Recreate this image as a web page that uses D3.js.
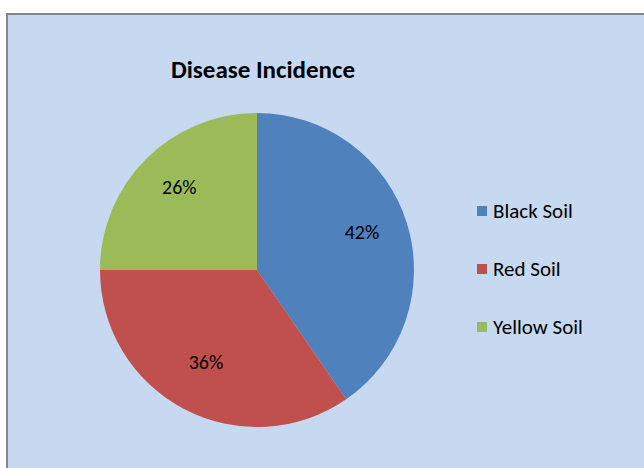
<!DOCTYPE html>
<html>
<head>
<meta charset="utf-8">
<script src="https://cdn.jsdelivr.net/npm/d3@7"></script>
<style>
  body { margin: 0; background: #fff; }
  svg { display: block; }
</style>
</head>
<body>
<svg width="644" height="468"></svg>
<script>
var categories = ["Black Soil", "Red Soil", "Yellow Soil"];
var values = [42, 36, 26];
var labels = ["42%", "36%", "26%"];
var colors = ["#4F81BD", "#C0504D", "#9BBB59"];

var svg = d3.select("svg"),
	cx = 257, cy = 270, radius = 157;

// chart area with grey border
svg.append("rect")
	.attr("x", 7).attr("y", 14)
	.attr("width", 660).attr("height", 480)
	.attr("fill", "#C6D9F1")
	.attr("stroke", "#868686")
	.attr("stroke-width", 2);

svg.append("text")
	.attr("x", 263).attr("y", 78)
	.attr("text-anchor", "middle")
	.attr("font-family", "Carlito, 'Open Sans', sans-serif")
	.attr("font-size", 25)
	.attr("font-weight", "bold")
	.attr("fill", "#000")
	.text("Disease Incidence");

var pie = d3.pie().sort(null).startAngle(0).endAngle(2 * Math.PI);
var arcs = pie(values);

var arc = d3.arc().innerRadius(0).outerRadius(radius);
var labelArc = d3.arc().innerRadius(radius * 0.7).outerRadius(radius * 0.7);

var g = svg.append("g").attr("transform", "translate(" + cx + "," + cy + ")");

g.selectAll("path")
	.data(arcs)
	.enter().append("path")
	.attr("d", arc)
	.attr("fill", function(d, i){ return colors[i]; });

g.selectAll("text")
	.data(arcs)
	.enter().append("text")
	.attr("transform", function(d){ return "translate(" + labelArc.centroid(d) + ")"; })
	.attr("text-anchor", "middle")
	.attr("dy", "0.1em")
	.attr("font-family", "Carlito, 'Open Sans', sans-serif")
	.attr("font-size", 20)
	.attr("fill", "#000")
	.text(function(d, i){ return labels[i]; });

// legend
var legendY = d3.scalePoint().domain(categories).range([211, 327]);

var legend = svg.selectAll(".legend")
	.data(categories)
	.enter().append("g")
	.attr("class", "legend")
	.attr("transform", function(d){ return "translate(477," + legendY(d) + ")"; });

legend.append("rect")
	.attr("x", 0).attr("y", -5)
	.attr("width", 10).attr("height", 10)
	.attr("fill", function(d, i){ return colors[i]; });

legend.append("text")
	.attr("x", 16)
	.attr("dy", "0.35em")
	.attr("font-family", "Carlito, 'Open Sans', sans-serif")
	.attr("font-size", 21)
	.attr("fill", "#000")
	.text(function(d){ return d; });
</script>
</body>
</html>
